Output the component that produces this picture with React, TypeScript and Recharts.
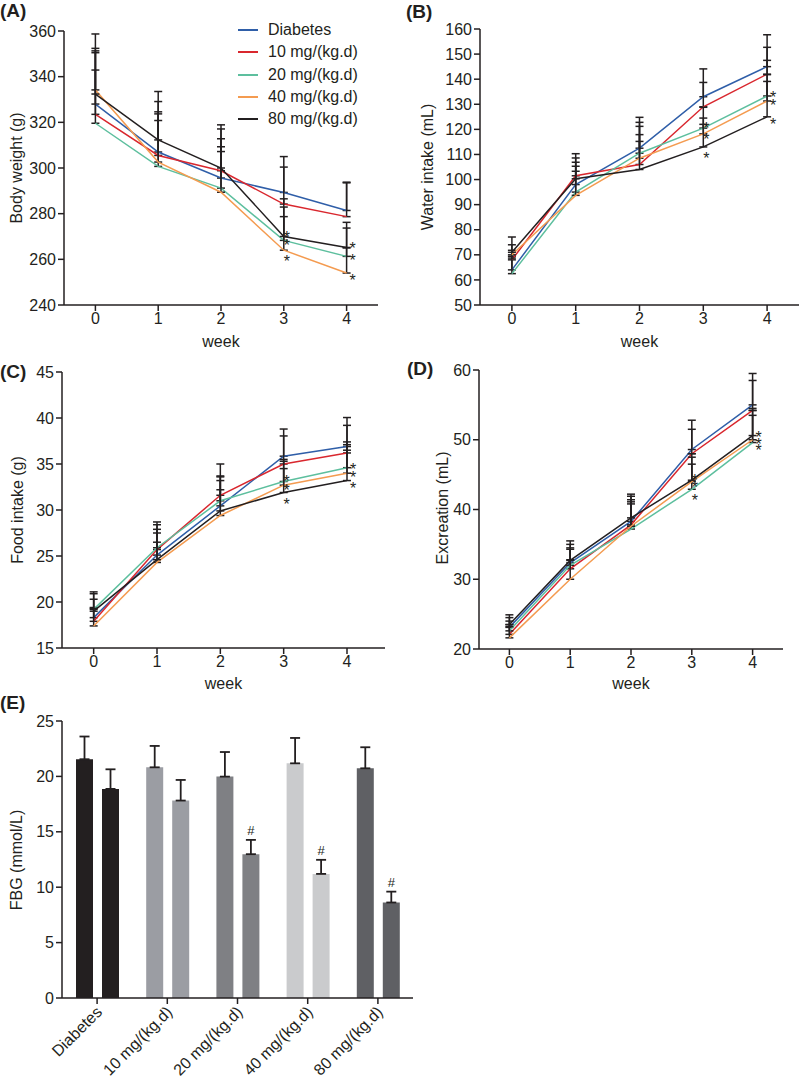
import React from 'react';
import { LineChart, Line, XAxis, YAxis, ErrorBar, LabelList, BarChart, Bar, Cell } from 'recharts';

const FONT = '"Liberation Sans", Arial, Helvetica, sans-serif';
const INK = '#231f20';

// ---------- shared ----------
const weeks = [0, 1, 2, 3, 4];
const groupNames = ['Diabetes', '10 mg/(kg.d)', '20 mg/(kg.d)', '40 mg/(kg.d)', '80 mg/(kg.d)'];
const lineColors = ['#2f5ea8', '#d9272e', '#5dbf9e', '#f49b50', '#231f20'];

// ---------- (A) Body weight (g) ----------
const bodyWeightMean = [
  [328, 307, 295.6, 289.3, 281.4],
  [323.5, 305.5, 298.8, 284.2, 278.7],
  [319.6, 300.7, 291.2, 268.3, 261.3],
  [334.2, 302.6, 289.4, 264, 254],
  [332.4, 312.3, 300, 270, 265.2],
];
const bodyWeightErr = [
  [23.3, 22.1, 17.2, 15.7, 12.4],
  [27, 19.1, 18.3, 16.2, 14.8],
  [23.3, 20.1, 18.1, 14.6, 12.4],
  [24.5, 21.1, 17.8, 14.7, 11],
  [20, 21.2, 18.9, 16.5, 11],
];
const bodyWeightTicks = [240, 260, 280, 300, 320, 340, 360];

// ---------- (B) Water intake (mL) ----------
const waterMean = [
  [64, 98, 112.5, 133, 145],
  [68, 101.5, 106, 129, 142],
  [62.5, 95, 110.5, 120.5, 133.3],
  [70, 93.7, 108.5, 118.2, 131.3],
  [71, 100.3, 104, 113, 125],
];
const waterErr = [
  [5.4, 8.9, 12.3, 11.1, 12.7],
  [3.8, 7.1, 11.9, 9.7, 10.7],
  [6.2, 10.3, 12.3, 8.3, 14.2],
  [4, 9.6, 12.7, 6.3, 10.5],
  [6.1, 10, 11.2, 9, 14.1],
];
const waterTicks = [50, 60, 70, 80, 90, 100, 110, 120, 130, 140, 150, 160];

// ---------- (C) Food intake (g) ----------
const foodMean = [
  [18.3, 25.1, 30.45, 35.85, 36.9],
  [17.9, 25.7, 31.6, 35, 36.2],
  [19.2, 25.9, 31, 33.1, 34.6],
  [17.4, 24.3, 29.4, 32.7, 34],
  [19, 24.6, 29.9, 31.9, 33.2],
];
const foodErr = [
  [2, 2.8, 3.15, 2.95, 3.15],
  [1.5, 2.7, 3.4, 3.05, 3],
  [1.9, 2.8, 2.7, 2.4, 2.8],
  [1.9, 2.2, 2.8, 2.6, 3.1],
  [1.9, 2.9, 3.3, 2.6, 3.3],
];
const foodTicks = [15, 20, 25, 30, 35, 40, 45];

// ---------- (D) Excreation (mL) ----------
const excretionMean = [
  [23.1, 32.35, 38.3, 48.6, 55],
  [22.1, 31.5, 37.8, 48, 54.2],
  [22.6, 32, 37.2, 42.9, 49.6],
  [21.6, 30, 37.6, 44, 50],
  [23.5, 32.7, 38.8, 44.2, 50.6],
];
const excretionErr = [
  [1.4, 2.65, 3.6, 4.2, 4.5],
  [1.4, 2.8, 3.6, 3.5, 4.3],
  [1.4, 2.5, 3.6, 3.6, 3.9],
  [1.6, 2.8, 3.5, 3.5, 4.2],
  [1.4, 2.8, 3.4, 3.8, 3.9],
];
const excretionTicks = [20, 30, 40, 50, 60];

// significance stars (*) per series per week (same pattern in A-D)
const starFlags = [
  [0, 0, 0, 0, 0],
  [0, 0, 0, 0, 0],
  [0, 0, 0, 1, 1],
  [0, 0, 0, 1, 1],
  [0, 0, 0, 1, 1],
];

// ---------- (E) FBG ----------
const fbgBefore = [21.55, 20.82, 19.98, 21.18, 20.73];
const fbgBeforeErr = [2.05, 1.93, 2.22, 2.29, 1.9];
const fbgAfter = [18.87, 17.82, 12.98, 11.2, 8.62];
const fbgAfterErr = [1.77, 1.86, 1.29, 1.27, 0.98];
const fbgMarks = ['', '', '#', '#', '#'];
const barColors = ['#231f20', '#9b9da3', '#7f8084', '#cacbcd', '#5f6064'];
const fbgTicks = [0, 5, 10, 15, 20, 25];

// ---------- helpers ----------
function buildRows(means: number[][], errs: number[][]) {
  return weeks.map((w, i) => {
    const row: any = { week: w };
    means.forEach((m, s) => {
      row[`s${s}`] = m[i];
      row[`e${s}`] = [0, errs[s][i]];
    });
    return row;
  });
}

const tickStyle = { fontSize: 16, fill: INK, fontFamily: FONT };

// star offset by rank (top / middle / bottom) among starred series at that week
const starDyWeek3 = [-3, 2, 8];
const starDyWeek4 = [-2, 1, 4];

const makeStar = (flags: number[], s: number, means: number[][]) => (props: any) => {
  const { x, y, index } = props;
  if (!flags[index]) return null;
  const starred = means
    .map((m, k) => ({ k, v: m[index] }))
    .filter((o) => starFlags[o.k][index]);
  starred.sort((a, b) => b.v - a.v);
  const rank = starred.findIndex((o) => o.k === s);
  const dy = (index === 4 ? starDyWeek4 : starDyWeek3)[rank] || 0;
  const dx = index === 4 ? 6 : 3;
  return (
    <text key={`st${index}`} x={x + dx} y={y + dy + 9} textAnchor="middle" fontSize={16} fill={INK} fontFamily={FONT}>
      *
    </text>
  );
};

type PanelProps = {
  left: number;
  top: number;
  width: number;
  height: number;
  margin: { top: number; right: number; bottom: number; left: number };
  xAxisHeight: number;
  xDomain: [number, number];
  yDomain: [number, number];
  yTicks: number[];
  means: number[][];
  errs: number[][];
};

function LinePanel(p: PanelProps) {
  const rows = buildRows(p.means, p.errs);
  return (
    <div style={{ position: 'absolute', left: p.left, top: p.top }}>
      <LineChart width={p.width} height={p.height} data={rows} margin={p.margin}>
        <XAxis
          type="number"
          dataKey="week"
          domain={p.xDomain}
          ticks={weeks}
          interval={0}
          tickSize={6}
          tick={tickStyle}
          axisLine={{ stroke: INK, strokeWidth: 1.5 }}
          tickLine={{ stroke: INK, strokeWidth: 1.5 }}
          height={p.xAxisHeight}
          label={{ value: 'week', position: 'insideBottom', offset: 0, fontSize: 16, fill: INK, fontFamily: FONT }}
        />
        <YAxis
          type="number"
          domain={p.yDomain}
          ticks={p.yTicks}
          interval={0}
          width={50}
          tickSize={6}
          tick={tickStyle}
          axisLine={{ stroke: INK, strokeWidth: 1.5 }}
          tickLine={{ stroke: INK, strokeWidth: 1.5 }}
        />
        {groupNames.map((name, s) => (
          <Line
            key={name}
            type="linear"
            dataKey={`s${s}`}
            name={name}
            stroke={lineColors[s]}
            strokeWidth={1.5}
            dot={false}
            activeDot={false}
            isAnimationActive={false}
          >
            <ErrorBar dataKey={`e${s}`} direction="y" width={4} stroke={INK} strokeWidth={1.5} />
            <LabelList dataKey={`s${s}`} content={makeStar(starFlags[s], s, p.means)} />
          </Line>
        ))}
      </LineChart>
    </div>
  );
}

const RotTick = (props: any) => {
  const { x, y, payload } = props;
  return (
    <g transform={`translate(${x + 2},${y + 3})`}>
      <text x={0} y={0} dy="0.35em" textAnchor="end" transform="rotate(-45)" fontSize={16} fill={INK} fontFamily={FONT}>
        {payload.value}
      </text>
    </g>
  );
};

const hashLabel = (props: any) => {
  const { x, y, width, height, value, index } = props;
  if (!fbgMarks[index]) return null;
  const capY = y - (fbgAfterErr[index] * height) / value;
  return (
    <text key={`h${index}`} x={x + width / 2} y={capY - 5} textAnchor="middle" fontSize={13} fill={INK} fontFamily={FONT}>
      {fbgMarks[index]}
    </text>
  );
};

function Title({ text, cx, cy }: { text: string; cx: number; cy: number }) {
  return (
    <div
      style={{
        position: 'absolute',
        left: cx,
        top: cy,
        transform: 'translate(-50%, -50%) rotate(-90deg)',
        whiteSpace: 'nowrap',
        fontSize: 16,
        color: INK,
        fontFamily: FONT,
        lineHeight: 1,
      }}
    >
      {text}
    </div>
  );
}

function Letter({ text, x, cy }: { text: string; x: number; cy: number }) {
  return (
    <div
      style={{
        position: 'absolute',
        left: x,
        top: cy,
        transform: 'translateY(-50%)',
        fontSize: 19,
        fontWeight: 'bold',
        color: INK,
        fontFamily: FONT,
        lineHeight: 1,
      }}
    >
      {text}
    </div>
  );
}

export default function App() {
  const fbgRows = groupNames.map((g, i) => ({
    group: g,
    before: fbgBefore[i],
    after: fbgAfter[i],
    beforeErr: [0, fbgBeforeErr[i]],
    afterErr: [0, fbgAfterErr[i]],
  }));

  return (
    <div style={{ position: 'absolute', left: 0, top: 0, width: 800, height: 1079, background: '#fff', fontFamily: FONT }}>
      {/* (A) */}
      <LinePanel
        left={0}
        top={0}
        width={400}
        height={350}
        margin={{ top: 31, right: 22, bottom: 3, left: 14 }}
        xAxisHeight={42}
        xDomain={[-0.5, 4.5]}
        yDomain={[240, 360]}
        yTicks={bodyWeightTicks}
        means={bodyWeightMean}
        errs={bodyWeightErr}
      />
      {/* (B) */}
      <LinePanel
        left={400}
        top={0}
        width={400}
        height={350}
        margin={{ top: 29, right: 1, bottom: 3, left: 30 }}
        xAxisHeight={42}
        xDomain={[-0.5, 4.5]}
        yDomain={[50, 160]}
        yTicks={waterTicks}
        means={waterMean}
        errs={waterErr}
      />
      {/* (C) */}
      <LinePanel
        left={0}
        top={340}
        width={400}
        height={355}
        margin={{ top: 32, right: 15, bottom: 6, left: 12 }}
        xAxisHeight={41}
        xDomain={[-0.5, 4.6]}
        yDomain={[15, 45]}
        yTicks={foodTicks}
        means={foodMean}
        errs={foodErr}
      />
      {/* (D) */}
      <LinePanel
        left={400}
        top={340}
        width={400}
        height={355}
        margin={{ top: 30, right: 17, bottom: 6, left: 29 }}
        xAxisHeight={40}
        xDomain={[-0.5, 4.5]}
        yDomain={[20, 60]}
        yTicks={excretionTicks}
        means={excretionMean}
        errs={excretionErr}
      />
      {/* (E) */}
      <div style={{ position: 'absolute', left: 0, top: 690 }}>
        <BarChart
          width={420}
          height={389}
          data={fbgRows}
          margin={{ top: 31, right: 7, bottom: 1, left: 12 }}
          barSize={17}
          barGap={9}
        >
          <XAxis
            dataKey="group"
            type="category"
            interval={0}
            tickSize={6}
            height={80}
            tick={<RotTick />}
            axisLine={{ stroke: INK, strokeWidth: 1.5 }}
            tickLine={{ stroke: INK, strokeWidth: 1.5 }}
          />
          <YAxis
            type="number"
            domain={[0, 25]}
            ticks={fbgTicks}
            interval={0}
            width={50}
            tickSize={6}
            tick={tickStyle}
            axisLine={{ stroke: INK, strokeWidth: 1.5 }}
            tickLine={{ stroke: INK, strokeWidth: 1.5 }}
          />
          <Bar dataKey="before" isAnimationActive={false}>
            {fbgRows.map((r, i) => (
              <Cell key={`b${i}`} fill={barColors[i]} />
            ))}
            <ErrorBar dataKey="beforeErr" direction="y" width={5} stroke={INK} strokeWidth={1.8} />
          </Bar>
          <Bar dataKey="after" isAnimationActive={false}>
            {fbgRows.map((r, i) => (
              <Cell key={`a${i}`} fill={barColors[i]} />
            ))}
            <ErrorBar dataKey="afterErr" direction="y" width={5} stroke={INK} strokeWidth={1.8} />
            <LabelList dataKey="after" content={hashLabel} />
          </Bar>
        </BarChart>
      </div>

      {/* legend for (A) */}
      <div style={{ position: 'absolute', left: 238, top: 19 }}>
        {groupNames.map((n, i) => (
          <div key={n} style={{ display: 'flex', alignItems: 'center', height: 22.3 }}>
            <svg width={20} height={4} style={{ marginRight: 10 }}>
              <line x1={0} y1={2} x2={20} y2={2} stroke={lineColors[i]} strokeWidth={2} />
            </svg>
            <span style={{ fontSize: 16, color: INK, fontFamily: FONT, whiteSpace: 'nowrap' }}>{n}</span>
          </div>
        ))}
      </div>

      {/* axis titles */}
      <Title text="Body weight (g)" cx={17} cy={168} />
      <Title text="Water intake (mL)" cx={428} cy={167} />
      <Title text="Food intake (g)" cx={18} cy={510} />
      <Title text="Excreation (mL)" cx={443} cy={508} />
      <Title text="FBG (mmol/L)" cx={17} cy={860} />

      {/* panel letters */}
      <Letter text="(A)" x={0} cy={10} />
      <Letter text="(B)" x={406} cy={11} />
      <Letter text="(C)" x={0} cy={371} />
      <Letter text="(D)" x={407} cy={368} />
      <Letter text="(E)" x={0} cy={702} />
    </div>
  );
}
